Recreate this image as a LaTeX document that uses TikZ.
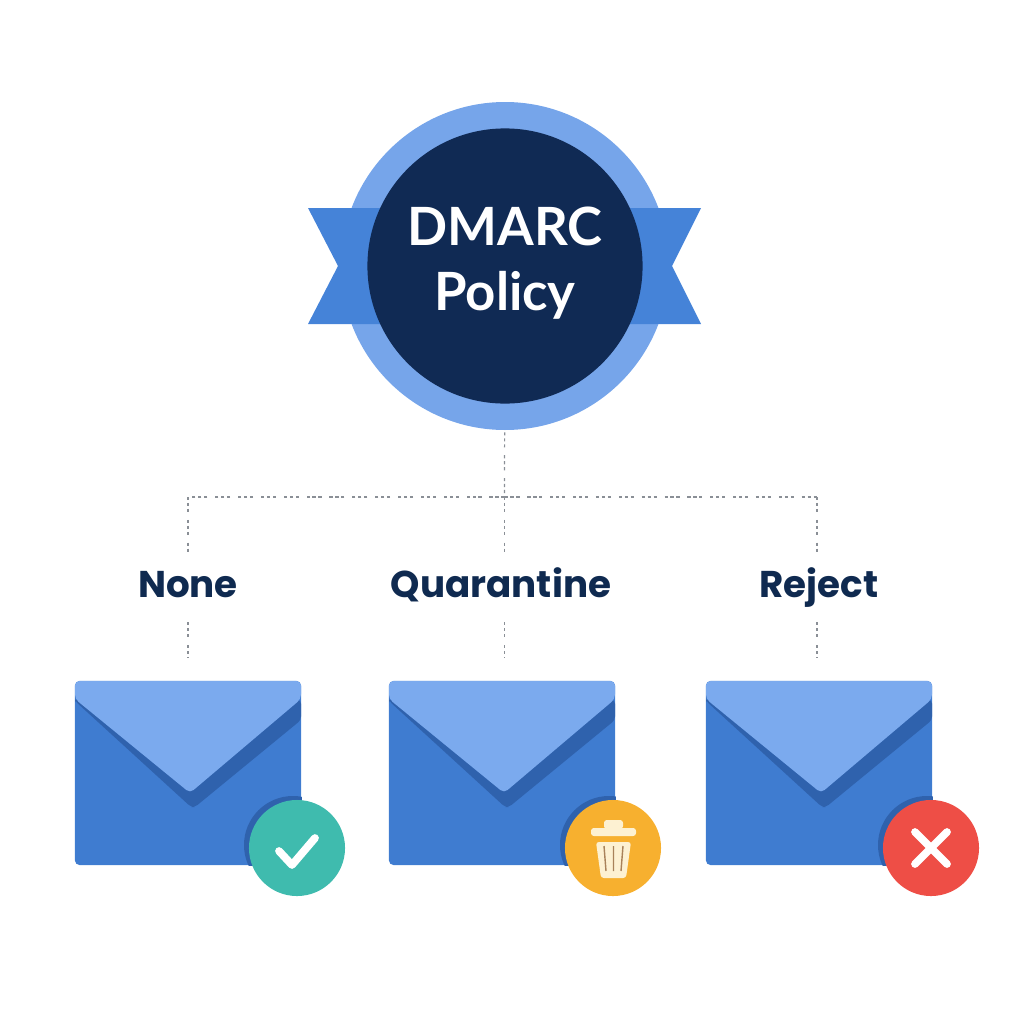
\documentclass[tikz,border=0pt]{standalone}
\usepackage{fontspec}
\setmainfont{Lato}
\newfontfamily\labelfont{Poppins}
\usetikzlibrary{positioning}

\definecolor{ringblue}{HTML}{76A5EA}
\definecolor{ribbonblue}{HTML}{4583D8}
\definecolor{navy}{HTML}{102A54}
\definecolor{labelnavy}{HTML}{0F2A50}
\definecolor{envbody}{HTML}{3F7CD0}
\definecolor{envflap}{HTML}{7BAAEE}
\definecolor{envshade}{HTML}{2F62AD}
\definecolor{dotgray}{HTML}{8A8F96}
\definecolor{okgreen}{HTML}{3FBBAE}
\definecolor{binamber}{HTML}{F7B02F}
\definecolor{binpaper}{HTML}{FDF1D2}
\definecolor{binstripe}{HTML}{A9825A}
\definecolor{nored}{HTML}{EE4E46}

\tikzset{
  policylabel/.style={font=\labelfont\bfseries\fontsize{10.6}{12}\selectfont,text=labelnavy,inner sep=0pt,text height=8pt,text depth=2pt},
  envbox/.style={rectangle,fill=envbody,rounded corners=1.3pt,minimum width=2.26cm,minimum height=1.84cm,inner sep=0pt},
  iconbadge/.style={circle,minimum size=0.96cm,inner sep=0pt},
  linkdots/.style={draw=dotgray,line width=0.35pt,dash pattern=on 0.9pt off 0.8pt on 0.9pt off 0.8pt on 0.9pt off 2.2pt},
  iconstroke/.style={draw=white,line width=2.2pt,line cap=round,line join=round}
}

\begin{document}
\begin{tikzpicture}[x=0.01cm,y=-0.01cm]
    \useasboundingbox (0,0) rectangle (1024,1024);

    % Badge
    \fill[ringblue] (505,266) circle[radius=164];
    \fill[ribbonblue] (308,208) -- (400,208) -- (400,324) -- (308,324) -- (338,266) -- cycle;
    \fill[ribbonblue] (701,208) -- (610,208) -- (610,324) -- (701,324) -- (672,266) -- cycle;
    \node[circle,fill=navy,minimum size=2.75cm,inner sep=0pt] (badge) at (505,266) {};
    \node[align=center,text=white,inner sep=0pt,font=\bfseries\fontsize{15}{18.5}\selectfont] (badgeText) at (505,263) {DMARC\\Policy};

    % Labels
    \node[policylabel] (lblNone) at (188,587) {None};
    \node[policylabel] (lblQuarantine) at (501,587) {Quarantine};
    \node[policylabel] (lblReject) at (819,587) {Reject};

    % Envelopes
    \node[envbox] (envNone) at (188,773) {};
    \node[envbox] (envQuarantine) at (502,773) {};
    \node[envbox] (envReject) at (819,773) {};

    \foreach \envx in {75,389,706}{
      \begin{scope}[shift={(\envx,681)}]
        \fill[envshade,rounded corners=1pt] (0,18) -- (0,20) -- (116,126) -- (120,126) -- (226,39) -- (226,19) -- cycle;
        \fill[envflap,rounded corners=1.3pt] (0,18) -- (0,0) -- (226,0) -- (226,18) -- (115,112) -- cycle;
      \end{scope}
    }

    % Icons
    \foreach \envname/\iconx in {envNone/297,envQuarantine/613,envReject/931}{
      \begin{scope}
        \clip (\envname.north west) rectangle (\envname.south east);
        \fill[envshade] (\iconx-4,845) circle[radius=49];
      \end{scope}
    }
    \node[iconbadge,fill=okgreen] (iconOk) at (297,848) {};
    \node[iconbadge,fill=binamber] (iconBin) at (613,848) {};
    \node[iconbadge,fill=nored] (iconNo) at (931,848) {};

    \draw[iconstroke] (279,851) -- (292,865) -- (315,838);
    \draw[iconstroke] (915,832) -- (947,864) (947,832) -- (915,864);

    \fill[binpaper,rounded corners=0.8pt] (591,828) rectangle (636,836);
    \fill[binpaper,rounded corners=0.8pt] (604,829) -- (604,820) -- (623,820) -- (623,829) -- cycle;
    \fill[binpaper,rounded corners=0.8pt] (596,842) -- (631,842) -- (626,878) -- (601,878) -- cycle;
    \draw[binstripe,line width=0.4pt] (604,846) -- (606,871) (613.5,846) -- (613.5,871) (623,846) -- (621,871);

    % Connections
    \coordinate (hub) at (504.5,497);
    \coordinate (hubLeft) at (188,497);
    \coordinate (hubRight) at (817,497);
    \draw[linkdots,shorten <=0.28cm] (badge) -- (hub);
    \draw[linkdots] (hub) -- (hubLeft);
    \draw[linkdots] (hub) -- (hubRight);
    \draw[linkdots,shorten >=0.16cm] (hubLeft) -- (lblNone);
    \draw[linkdots,shorten >=0.16cm] (hub) -- (hub |- lblQuarantine.north);
    \draw[linkdots,shorten >=0.16cm] (hubRight) -- (hubRight |- lblReject.north);
    \draw[linkdots,shorten <=0.17cm,shorten >=0.23cm] (lblNone) -- (envNone);
    \draw[linkdots,shorten <=0.17cm,shorten >=0.23cm] (hub |- lblQuarantine.south) -- (hub |- envQuarantine.north);
    \draw[linkdots,shorten <=0.17cm,shorten >=0.23cm] (hubRight |- lblReject.south) -- (hubRight |- envReject.north);
\end{tikzpicture}
\end{document}
